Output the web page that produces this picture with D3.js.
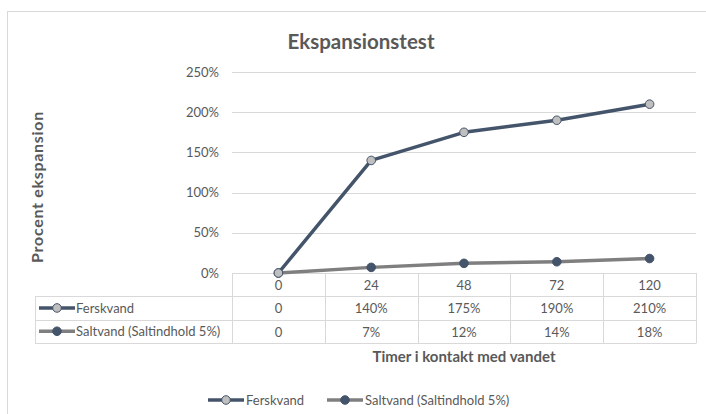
<!DOCTYPE html>
<html>
<head>
<meta charset="utf-8">
<script src="https://cdn.jsdelivr.net/npm/d3@7"></script>
<style>
  body { margin: 0; background: #fff; }
  text { font-family: Lato, "Open Sans", sans-serif; }
</style>
</head>
<body>
<script>
// data
var categories = ["0", "24", "48", "72", "120"];
var seriesNames = ["Ferskvand", "Saltvand (Saltindhold 5%)"];
var ferskvand = [0, 140, 175, 190, 210];
var saltvand = [0, 7, 12, 14, 18];
var tableFersk = ["0", "140%", "175%", "190%", "210%"];
var tableSalt = ["0", "7%", "12%", "14%", "18%"];
var yTicks = [0, 50, 100, 150, 200, 250];

(function() {
var width = 706, height = 414;
var svg = d3.select("body").append("svg")
    .attr("width", width)
    .attr("height", height);

// chart frame
svg.append("rect")
    .attr("x", 7.5).attr("y", 11.5)
    .attr("width", 710).attr("height", 420)
    .attr("fill", "none")
    .attr("stroke", "#d9d9d9");

var plotLeft = 232, plotRight = 696, plotTop = 72, plotBottom = 273;

var x = d3.scaleBand().domain(categories).range([plotLeft, plotRight]);
var y = d3.scaleLinear().domain([0, 250]).range([plotBottom, plotTop]);

// title
svg.append("text")
    .attr("x", 361).attr("y", 49)
    .attr("text-anchor", "middle")
    .attr("font-size", 20.5)
    .attr("font-weight", "bold")
    .attr("fill", "#595959")
    .text("Ekspansionstest");

// gridlines
svg.append("g").selectAll("line")
    .data(yTicks.filter(function(d) { return d > 0; }))
    .join("line")
    .attr("x1", plotLeft).attr("x2", plotRight)
    .attr("y1", function(d) { return Math.round(y(d)) + 0.5; })
    .attr("y2", function(d) { return Math.round(y(d)) + 0.5; })
    .attr("stroke", "#d9d9d9");

// y axis labels
var yAxis = d3.axisLeft(y).tickValues(yTicks)
    .tickFormat(function(d) { return d + "%"; })
    .tickSize(0).tickPadding(13);
var ya = svg.append("g").attr("transform", "translate(" + plotLeft + ",0)").call(yAxis);
ya.select(".domain").remove();
ya.selectAll("text")
    .attr("font-size", 13)
    .attr("fill", "#595959")
    .style("font-family", "Lato, sans-serif");

svg.append("text")
    .attr("transform", "translate(43,187) rotate(-90)")
    .attr("text-anchor", "middle")
    .attr("font-size", 16)
    .attr("letter-spacing", 0.7)
    .attr("font-weight", "bold")
    .attr("fill", "#595959")
    .text("Procent ekspansion");

// data table
var rowH = 23.3;
var rows = [categories, tableFersk, tableSalt];
var grid = svg.append("g").attr("stroke", "#d9d9d9").attr("fill", "none");
grid.append("line").attr("x1", plotLeft).attr("x2", plotRight)
    .attr("y1", plotBottom + 0.5).attr("y2", plotBottom + 0.5);
[1, 2, 3].forEach(function(i) {
  var yy = Math.round(plotBottom + rowH * i) + 0.5;
  grid.append("line").attr("x1", 35).attr("x2", plotRight).attr("y1", yy).attr("y2", yy);
});
grid.append("line").attr("x1", 35.5).attr("x2", 35.5)
    .attr("y1", Math.round(plotBottom + rowH) + 0.5)
    .attr("y2", Math.round(plotBottom + rowH * 3) + 0.5);
categories.concat(["end"]).forEach(function(c, i) {
  var xx = Math.round(plotLeft + x.bandwidth() * i) + 0.5;
  grid.append("line").attr("x1", xx).attr("x2", xx)
      .attr("y1", plotBottom).attr("y2", Math.round(plotBottom + rowH * 3) + 0.5);
});

rows.forEach(function(r, ri) {
  svg.append("g").selectAll("text")
      .data(r)
      .join("text")
      .attr("x", function(d, i) { return x(categories[i]) + x.bandwidth() / 2; })
      .attr("y", plotBottom + rowH * ri + 17)
      .attr("text-anchor", "middle")
      .attr("font-size", 13)
      .attr("fill", "#595959")
      .text(function(d) { return d; });
});

// series styles
var series = [
  { name: seriesNames[0], values: ferskvand, line: "#44546a", fill: "#bfbfbf", stroke: "#44546a" },
  { name: seriesNames[1], values: saltvand, line: "#7f7f7f", fill: "#44546a", stroke: "#44546a" }
];

function drawKey(g, s, x0, yy) {
  g.append("line")
      .attr("x1", x0).attr("x2", x0 + 36)
      .attr("y1", yy).attr("y2", yy)
      .attr("stroke", s.line).attr("stroke-width", 3.5);
  g.append("circle")
      .attr("cx", x0 + 18).attr("cy", yy).attr("r", 4.3)
      .attr("fill", s.fill).attr("stroke", s.stroke).attr("stroke-width", 1);
}

series.forEach(function(s, i) {
  var yy = plotBottom + rowH * (i + 1) + rowH / 2;
  drawKey(svg, s, 39, yy);
  svg.append("text")
      .attr("x", 76).attr("y", yy + 5)
      .attr("font-size", 13)
      .attr("fill", "#595959")
      .text(s.name);
});

// lines and markers
var line = d3.line()
    .x(function(d, i) { return x(categories[i]) + x.bandwidth() / 2; })
    .y(function(d) { return y(d); });

series.slice().reverse().forEach(function(s) {
  svg.append("path")
      .datum(s.values)
      .attr("d", line)
      .attr("fill", "none")
      .attr("stroke", s.line)
      .attr("stroke-width", 3.5)
      .attr("stroke-linejoin", "round");
});
series.slice().reverse().forEach(function(s) {
  svg.append("g").selectAll("circle")
      .data(s.values)
      .join("circle")
      .attr("cx", function(d, i) { return x(categories[i]) + x.bandwidth() / 2; })
      .attr("cy", function(d) { return y(d); })
      .attr("r", 4.3)
      .attr("fill", s.fill)
      .attr("stroke", s.stroke)
      .attr("stroke-width", 1);
});

// x axis title
svg.append("text")
    .attr("x", 464).attr("y", 362)
    .attr("text-anchor", "middle")
    .attr("font-size", 15)
    .attr("font-weight", "bold")
    .attr("fill", "#595959")
    .text("Timer i kontakt med vandet");

// legend
var legendX = [208, 327];
series.forEach(function(s, i) {
  drawKey(svg, s, legendX[i], 400);
  svg.append("text")
      .attr("x", legendX[i] + 38).attr("y", 405)
      .attr("font-size", 13)
      .attr("fill", "#595959")
      .text(s.name);
});
})();
</script>
</body>
</html>
